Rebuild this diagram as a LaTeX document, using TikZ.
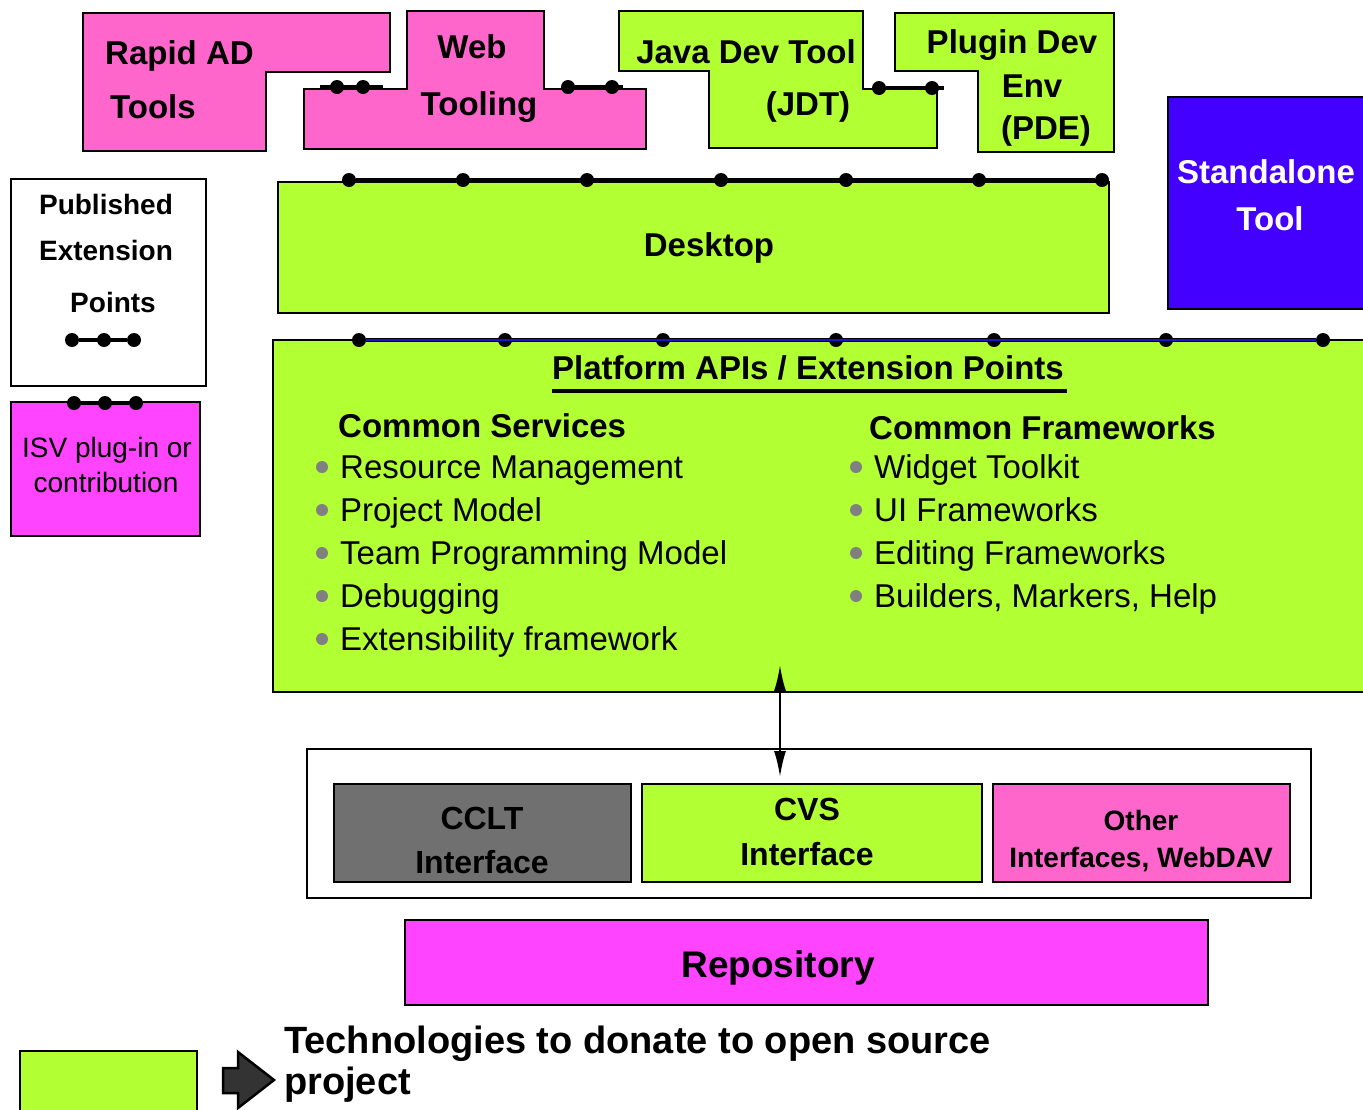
\documentclass[tikz,border=0pt]{standalone}
\usepackage{fontspec}
\setmainfont{Liberation Sans}
\usetikzlibrary{arrows.meta}
\definecolor{dongreen}{RGB}{178,255,51}
\definecolor{toolpink}{RGB}{255,102,204}
\definecolor{isvmagenta}{RGB}{255,68,255}
\definecolor{toolblue}{RGB}{68,0,255}
\definecolor{ccltgrey}{RGB}{112,112,112}
\definecolor{bulletgrey}{RGB}{128,128,128}
\definecolor{arrowgrey}{RGB}{51,51,51}
\definecolor{apiblue}{RGB}{20,20,210}
\begin{document}
\begin{tikzpicture}[x=1pt,y=-1pt,
  box/.style={draw=black,line width=2pt},
  plainbox/.style={box,inner sep=0pt},
  boxtext/.style={font=\bfseries\fontsize{33}{40}\selectfont,anchor=base,inner sep=0pt},
  smalltext/.style={font=\bfseries\fontsize{28}{34}\selectfont,anchor=base,inner sep=0pt},
  listtext/.style={font=\fontsize{33}{40}\selectfont,anchor=base west,inner sep=0pt},
  epdot/.style={circle,fill=black,inner sep=0pt,minimum size=14pt},
  bulletdot/.style={circle,fill=bulletgrey,inner sep=0pt,minimum size=12pt},
  epline/.style={line width=4pt},
  ]
\clip (0,0) rectangle (1363,1109);

% tools on top
\draw[box,fill=toolpink] (83,13) -- (390,13) -- (390,72) -- (266,72) -- (266,151) -- (83,151) -- cycle;
\node[boxtext,anchor=base west] (rapid) at (105,64) {Rapid AD};
\node[boxtext,anchor=base west] (rapidb) at (110,118) {Tools};
\draw[box,fill=toolpink] (407,11) -- (544,11) -- (544,89) -- (646,89) -- (646,149) -- (304,149) -- (304,89) -- (407,89) -- cycle;
\node[boxtext] (web) at (472,58) {Web};
\node[boxtext] (webb) at (479,115) {Tooling};
\draw[box,fill=dongreen] (619,11) -- (863,11) -- (863,89) -- (937,89) -- (937,148) -- (709,148) -- (709,71) -- (619,71) -- cycle;
\node[boxtext] (jdt) at (746,63) {Java Dev Tool};
\node[boxtext] (jdtb) at (808,115) {(JDT)};
\draw[box,fill=dongreen] (895,13) -- (1114,13) -- (1114,152) -- (978,152) -- (978,71) -- (895,71) -- cycle;
\node[boxtext] (pde) at (1012,53) {Plugin Dev};
\node[boxtext] (pdeb) at (1032,97) {Env};
\node[boxtext] (pdec) at (1046,139) {(PDE)};
\draw[box,fill=toolblue] (1168,97) rectangle (1370,309);
\node[boxtext,text=white] (alone) at (1266,183) {Standalone};
\node[boxtext,text=white] (aloneb) at (1270,230) {Tool};

% extension points between tools
\coordinate (wa0) at (320,87);
\node[epdot] (wa1) at (337,87) {};
\node[epdot] (wa2) at (363,87) {};
\coordinate (wa3) at (383,87);
\draw[epline] (wa0) -- (wa3);
\node[epdot] (wb1) at (568,87) {};
\node[epdot] (wb2) at (612,87) {};
\coordinate (wb3) at (623,87);
\draw[epline] (wb1) -- (wb3);
\node[epdot] (ja1) at (879,88) {};
\node[epdot] (ja2) at (932,88) {};
\coordinate (ja3) at (944,88);
\draw[epline] (ja1) -- (ja3);

% desktop
\node[plainbox,fill=dongreen,minimum width=831pt,minimum height=131pt] (desktop) at (693.5,247.5) {};
\node[boxtext] (desktopt) at (709,256) {Desktop};
\foreach \x [count=\i] in {349,463,587,721,846,979,1102}
  \node[epdot] (dk\i) at (\x,180) {};
\draw[epline] (dk1) -- (dk7);

% platform
\node[plainbox,fill=dongreen,minimum width=1097pt,minimum height=352pt] (platform) at (821.5,516) {};
\foreach \x [count=\i] in {359,505,663,836,994,1166,1323}
  \node[epdot] (pf\i) at (\x,340) {};
\draw[line width=3.5pt] (pf1) -- (pf7);
\draw[line width=1.5pt,apiblue] (pf1) -- (pf7);
\node[boxtext] (apititle) at (808,379) {Platform APIs / Extension Points};
\draw[line width=3.5pt] ([yshift=-12pt]apititle.base west) -- ([yshift=-12pt,xshift=3pt]apititle.base east);

\node[boxtext,anchor=base west] (svchead) at (338,437) {Common Services};
\foreach \t [count=\i] in {Resource Management,Project Model,Team Programming Model,Debugging,Extensibility framework} {
  \node[listtext] (svc\i) at (340,{435+43*\i}) {\t};
  \node[bulletdot] (svcb\i) at (322,{424+43*\i}) {};
}
\node[boxtext,anchor=base west] (fwhead) at (869,439) {Common Frameworks};
\foreach \t [count=\i] in {Widget Toolkit,UI Frameworks,Editing Frameworks,{Builders, Markers, Help}} {
  \node[listtext] (fw\i) at (874,{435+43*\i}) {\t};
  \node[bulletdot] (fwb\i) at (856,{424+43*\i}) {};
}

% version control
\node[plainbox,minimum width=1004pt,minimum height=149pt] (vcm) at (809,823.5) {};
\node[plainbox,fill=ccltgrey,minimum width=297pt,minimum height=98pt] (cclt) at (482.5,833) {};
\node[boxtext,font=\bfseries\fontsize{32}{38}\selectfont] (ccltt) at (482,829) {CCLT};
\node[boxtext,font=\bfseries\fontsize{32}{38}\selectfont] (ccltb) at (482,873) {Interface};
\node[plainbox,fill=dongreen,minimum width=340pt,minimum height=98pt] (cvs) at (812,833) {};
\node[boxtext,font=\bfseries\fontsize{32}{38}\selectfont] (cvst) at (807,820) {CVS};
\node[boxtext,font=\bfseries\fontsize{32}{38}\selectfont] (cvsb) at (807,865) {Interface};
\node[plainbox,fill=toolpink,minimum width=297pt,minimum height=98pt] (other) at (1141.5,833) {};
\node[boxtext,font=\bfseries\fontsize{28}{33}\selectfont] (othert) at (1141,830) {Other};
\node[boxtext,font=\bfseries\fontsize{28}{33}\selectfont] (otherb) at (1141,867) {Interfaces, WebDAV};

\coordinate (apilink) at (780,665);
\draw[line width=2pt,{Latex[length=26pt,width=12pt]}-{Latex[length=26pt,width=12pt]},shorten >=6pt] (apilink) -- (apilink |- cvs.north);

\node[plainbox,fill=isvmagenta,minimum width=803pt,minimum height=85pt] (repo) at (806.5,962.5) {};
\node[boxtext,font=\bfseries\fontsize{37}{44}\selectfont] (repot) at (778,977) {Repository};

% legend
\node[plainbox,fill=white,minimum width=195pt,minimum height=207pt] (pubbox) at (108.5,282.5) {};
\node[smalltext] (pub) at (106,214) {Published};
\node[smalltext] (pubb) at (106,260) {Extension};
\node[smalltext] (pubc) at (113,312) {Points};
\foreach \x [count=\i] in {72,104,134}
  \node[epdot] (pe\i) at (\x,340) {};
\draw[epline] (pe1) -- (pe3);
\node[plainbox,fill=isvmagenta,minimum width=189pt,minimum height=134pt] (isv) at (105.5,469) {};
\foreach \x [count=\i] in {74,105,136}
  \node[epdot] (ie\i) at (\x,403) {};
\draw[epline] (ie1) -- (ie3);
\node[smalltext,font=\fontsize{28}{34}\selectfont] (isvt) at (107,457) {ISV plug-in or};
\node[smalltext,font=\fontsize{28}{34}\selectfont] (isvb) at (106,492) {contribution};

\node[plainbox,fill=dongreen,minimum width=177pt,minimum height=72pt] (donbox) at (108.5,1087) {};
\draw[line width=2.5pt,line join=miter,fill=arrowgrey] (223,1068) -- (238,1068) -- (238,1052) -- (274,1080) -- (238,1108) -- (238,1093) -- (223,1093) -- cycle;
\node[boxtext,font=\bfseries\fontsize{38}{45}\selectfont,anchor=base west] (dont) at (284,1053) {Technologies to donate to open source};
\node[boxtext,font=\bfseries\fontsize{38}{45}\selectfont,anchor=base west] (donb) at (284,1094) {project};
\end{tikzpicture}
\end{document}
